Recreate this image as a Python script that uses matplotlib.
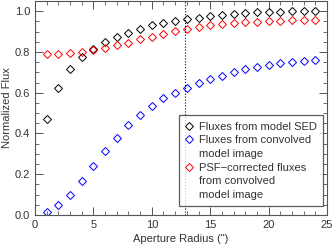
import numpy as np
import matplotlib.pyplot as plt
from matplotlib.ticker import MultipleLocator
from matplotlib.lines import Line2D

# aperture radius in arcsec
radius = list(range(1, 25))

flux_sed = [0.473, 0.625, 0.715, 0.775, 0.815, 0.850, 0.875, 0.895, 0.915, 0.930,
            0.941, 0.950, 0.961, 0.969, 0.976, 0.983, 0.988, 0.992, 0.995, 0.997,
            0.998, 0.999, 1.000, 1.000]
flux_conv = [0.015, 0.049, 0.100, 0.167, 0.240, 0.312, 0.380, 0.444, 0.493, 0.537,
             0.573, 0.600, 0.624, 0.649, 0.666, 0.684, 0.700, 0.715, 0.727, 0.738,
             0.746, 0.753, 0.758, 0.761]
flux_psf = [0.790, 0.788, 0.793, 0.801, 0.810, 0.820, 0.832, 0.845, 0.862, 0.875,
            0.889, 0.902, 0.914, 0.922, 0.930, 0.937, 0.941, 0.945, 0.948, 0.951,
            0.953, 0.955, 0.956, 0.958]
# legend text, one list per entry (continuation lines get no marker)
labels = [['Fluxes from model SED'],
          ['Fluxes from convolved', 'model image'],
          ['PSF\u2212corrected fluxes', 'from convolved', 'model image']]
vline_x = 12.8

txt = '#333333'
plt.rcParams['font.family'] = ['Liberation Sans', 'DejaVu Sans']
plt.rcParams['font.size'] = 8

fig = plt.figure(figsize=(3.32, 2.45), dpi=100)
ax = fig.add_axes([35 / 332, 30 / 245, 292 / 332, 214 / 245])

style = dict(ls='none', marker='D', mfc='none', ms=4.2, mew=0.7)
colors = ['black', 'blue', 'red']
for ys, c in zip([flux_sed, flux_conv, flux_psf], colors):
    ax.plot(radius, ys, color=c, **style)
ax.axvline(vline_x, color='black', ls=':', lw=0.8)

ax.set_xlim(0, 25)
ax.set_ylim(0, 1.05)
ax.xaxis.set_major_locator(MultipleLocator(5))
ax.xaxis.set_minor_locator(MultipleLocator(1))
ax.yaxis.set_major_locator(MultipleLocator(0.2))
ax.yaxis.set_minor_locator(MultipleLocator(0.05))
ax.yaxis.set_major_formatter(plt.FormatStrFormatter('%.1f'))
ax.tick_params(which='both', direction='in', top=True, right=True,
               color='#555555', labelcolor=txt)
ax.tick_params(which='major', length=6, width=0.7)
ax.tick_params(which='minor', length=3, width=0.6)
for s in ax.spines.values():
    s.set_color('#555555')
    s.set_linewidth(0.8)

ax.set_xlabel('Aperture Radius (")', color=txt, labelpad=3)
ax.set_ylabel('Normalized Flux', color=txt, labelpad=2)

handles, texts = [], []
for lines, c in zip(labels, colors):
    for i, line in enumerate(lines):
        h = Line2D([], [], color=c, ls='none', marker='D', mfc='none',
                   ms=3.6, mew=0.7, alpha=1.0 if i == 0 else 0.0)
        handles.append(h)
        texts.append(line)

leg = ax.legend(handles, texts, loc='lower right', bbox_to_anchor=(0.985, 0.042),
                borderaxespad=0, frameon=True, fancybox=False,
                edgecolor='#333333', handlelength=0.8, handletextpad=0.45,
                labelspacing=0.33, borderpad=0.55, fontsize=8)
leg.get_frame().set_linewidth(0.9)
for t in leg.get_texts():
    t.set_color(txt)

fig.savefig('out.png', dpi=100)
